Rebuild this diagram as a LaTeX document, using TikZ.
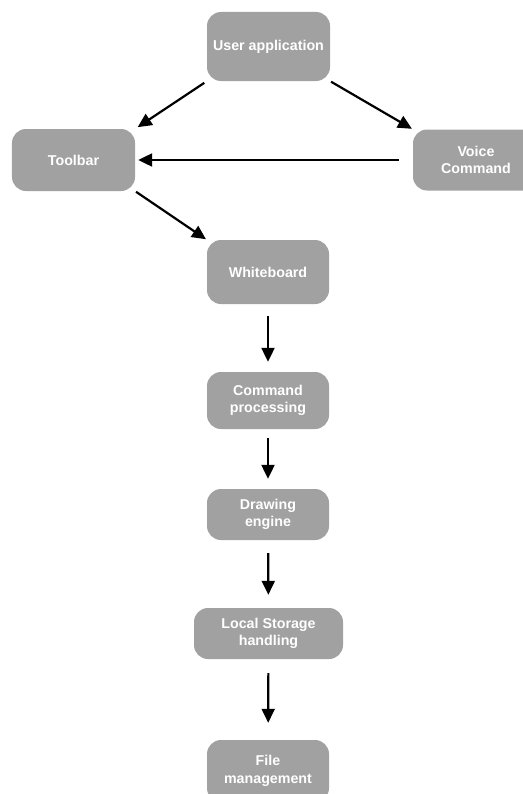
\documentclass[tikz,border=0pt]{standalone}
\usepackage{fontspec}
\setmainfont{Liberation Sans}
\usetikzlibrary{arrows.meta}

\begin{document}
\begin{tikzpicture}[x=1bp,y=-1bp,
  flowbox/.style={fill=black!37,rounded corners=14bp,inner sep=0pt,text=white,align=center,
    font=\fontsize{14.3}{17.5}\selectfont\bfseries,minimum width=123bp},
  flowarrow/.style={line width=2.2bp,-{Triangle[length=14bp,width=13bp]}}]
\useasboundingbox (0,0) rectangle (523,794);
\clip (0,0) rectangle (523,794);
\node[flowbox,minimum height=69bp] (ua) at (268.5,46.5) {User application};
\node[flowbox,minimum height=62bp] (tb) at (73.5,160) {Toolbar};
\node[flowbox,minimum height=61bp,minimum width=126bp] (vc) at (476,160) {Voice\\Command};
\node[flowbox,minimum height=64bp,minimum width=122bp] (wb) at (268,272) {Whiteboard};
\node[flowbox,minimum height=57bp,minimum width=122bp] (cp) at (268,400.5) {Command\\processing};
\node[flowbox,minimum height=51bp,minimum width=122bp] (de) at (268,514.5) {Drawing\\engine};
\node[flowbox,minimum height=51bp,minimum width=149bp] (ls) at (268.5,633.5) {Local Storage\\handling};
\node[flowbox,minimum height=62bp,minimum width=122bp] (fm) at (268,771) {File\\management};
% top part
\draw[flowarrow,shorten <=3bp,shorten >=3bp] (ua.south west) -- (tb.north east);
\draw[flowarrow,shorten <=1bp,shorten >=1bp] (ua.south east) -- (vc.north west);
\draw[flowarrow,shorten <=14bp,shorten >=3bp] (vc.west) -- (tb.east);
\draw[flowarrow,shorten <=1bp,shorten >=1bp] (tb.south east) -- (wb.north west);
% down the middle
\draw[flowarrow,shorten <=12bp,shorten >=10bp] (wb) -- (cp);
\draw[flowarrow,shorten <=9bp,shorten >=10bp] (cp) -- (de);
\draw[flowarrow,shorten <=13bp,shorten >=13bp] (de) -- (ls);
\draw[flowarrow,shorten <=14bp,shorten >=17bp] (ls) -- (fm);
\end{tikzpicture}
\end{document}
